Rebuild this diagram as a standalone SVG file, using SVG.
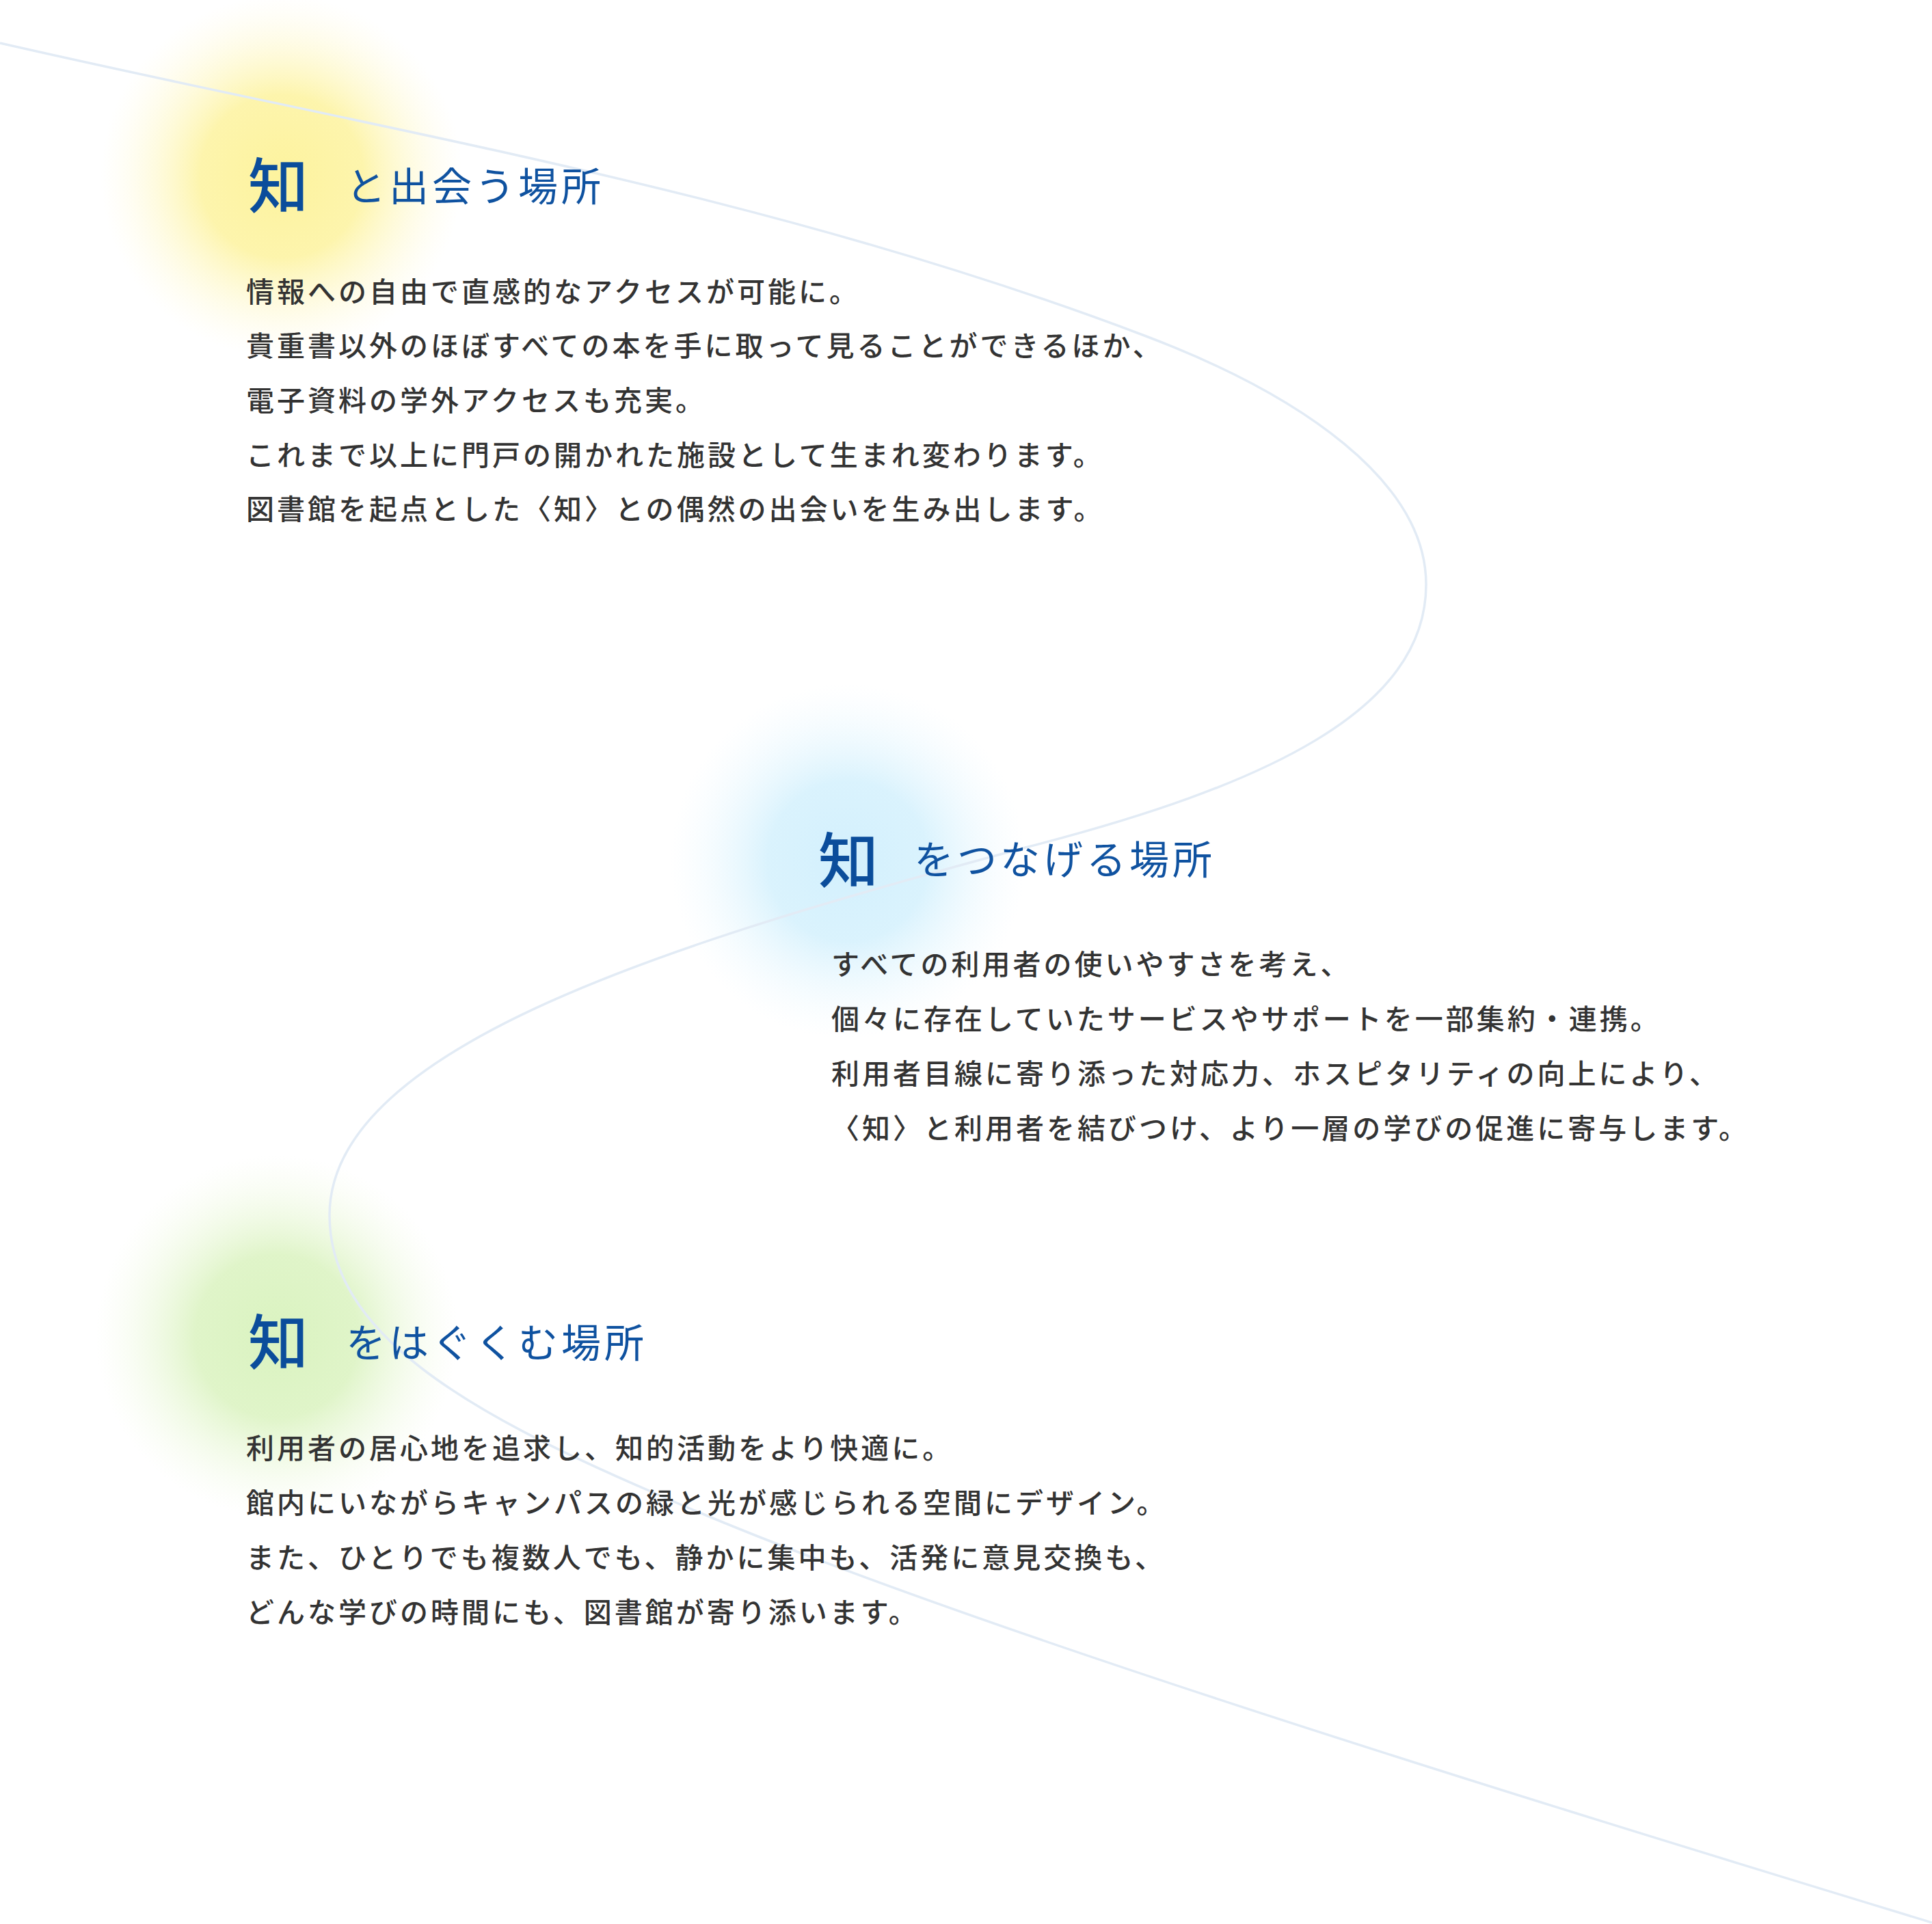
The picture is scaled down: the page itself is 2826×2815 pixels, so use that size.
<svg xmlns="http://www.w3.org/2000/svg" width="2826" height="2815" viewBox="0 0 2826 2815">
<style>
.big{font-family:"Noto Sans CJK JP","Noto Sans CJK SC",sans-serif;font-size:88px;font-weight:500;fill:#0b4d9b;}
.ttl{font-family:"Noto Sans CJK JP","Noto Sans CJK SC",sans-serif;font-size:58px;font-weight:400;fill:#0f52a0;letter-spacing:5px;}
.body{font-family:"Noto Sans CJK JP","Noto Sans CJK SC",sans-serif;font-size:41px;font-weight:500;fill:#333333;letter-spacing:4px;}
.curve{fill:none;stroke:#e2ebf5;stroke-width:3.5;}
</style>
<defs>
<radialGradient id="gy"><stop offset="0" stop-color="#fdf39e" stop-opacity="1"/><stop offset="0.45" stop-color="#fdf4a8" stop-opacity="0.95"/><stop offset="1" stop-color="#fffbe0" stop-opacity="0"/></radialGradient>
<radialGradient id="gb"><stop offset="0" stop-color="#d3f0fd" stop-opacity="1"/><stop offset="0.45" stop-color="#d8f2fd" stop-opacity="0.95"/><stop offset="1" stop-color="#f0faff" stop-opacity="0"/></radialGradient>
<radialGradient id="gg"><stop offset="0" stop-color="#daf3c0" stop-opacity="1"/><stop offset="0.45" stop-color="#def4c6" stop-opacity="0.95"/><stop offset="1" stop-color="#f4fbe8" stop-opacity="0"/></radialGradient>
</defs>
<rect x="0" y="0" width="2826" height="2815" fill="#ffffff"/>
<g id="glows">
<circle cx="412" cy="258" r="265" fill="url(#gy)"/>
<circle cx="1240" cy="1260" r="260" fill="url(#gb)"/>
<circle cx="405" cy="1955" r="265" fill="url(#gg)"/>
</g>
<g id="connectors">
<path class="curve" d="M0,63 C558,191 1116,279 1674,491 C1904,578 2086,705 2086,855 C2086,1040 1850,1150 1500,1240 C1000,1375 482,1528 482,1778 C482,1950 680,2065 954,2183 C1354,2363 2226,2630 2826,2813"/>
</g>
<g id="section-1">
<text class="big" x="363" y="304">知</text>
<text class="ttl" x="506" y="294">と出会う場所</text>
<text class="body" x="360" y="442">情報への自由で直感的なアクセスが可能に。</text>
<text class="body" x="360" y="521">貴重書以外のほぼすべての本を手に取って見ることができるほか、</text>
<text class="body" x="360" y="601">電子資料の学外アクセスも充実。</text>
<text class="body" x="360" y="681">これまで以上に門戸の開かれた施設として生まれ変わります。</text>
<text class="body" x="360" y="760">図書館を起点とした〈知〉との偶然の出会いを生み出します。</text>
</g>
<g id="section-2">
<text class="big" x="1197" y="1291">知</text>
<text class="ttl" x="1337" y="1279">をつなげる場所</text>
<text class="body" x="1216" y="1426">すべての利用者の使いやすさを考え、</text>
<text class="body" x="1216" y="1506">個々に存在していたサービスやサポートを一部集約・連携。</text>
<text class="body" x="1216" y="1586">利用者目線に寄り添った対応力、ホスピタリティの向上により、</text>
<text class="body" x="1216" y="1666">〈知〉と利用者を結びつけ、より一層の学びの促進に寄与します。</text>
</g>
<g id="section-3">
<text class="big" x="363" y="1996">知</text>
<text class="ttl" x="506" y="1986">をはぐくむ場所</text>
<text class="body" x="360" y="2134">利用者の居心地を追求し、知的活動をより快適に。</text>
<text class="body" x="360" y="2214">館内にいながらキャンパスの緑と光が感じられる空間にデザイン。</text>
<text class="body" x="360" y="2294">また、ひとりでも複数人でも、静かに集中も、活発に意見交換も、</text>
<text class="body" x="360" y="2374">どんな学びの時間にも、図書館が寄り添います。</text>
</g>
</svg>
